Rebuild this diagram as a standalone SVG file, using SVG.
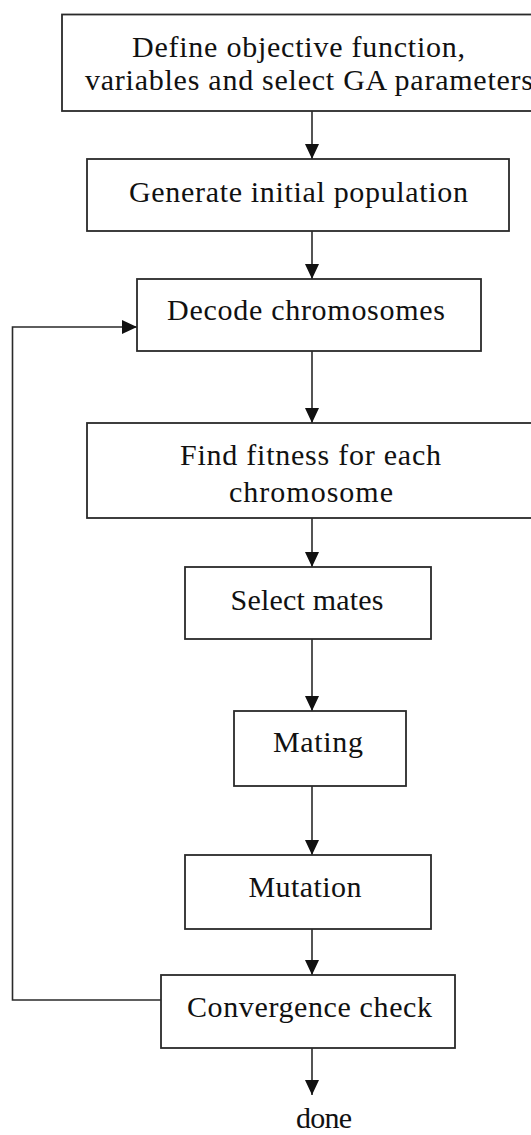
<svg xmlns="http://www.w3.org/2000/svg" width="531" height="1135" viewBox="0 0 531 1135">
<style>
.box{fill:#fff;stroke:#2a2a2a;stroke-width:1.8}
.t{font-family:"Liberation Serif","Times New Roman",serif;font-size:30px;fill:#111;text-anchor:middle}
.c{fill:none;stroke:#2a2a2a;stroke-width:1.6}
</style>
<defs>
<marker id="ah" markerUnits="userSpaceOnUse" markerWidth="16" markerHeight="14" refX="15" refY="7" orient="auto">
<path d="M0,0 L15,7 L0,14 Z" fill="#111"/>
</marker>
</defs>
<rect width="531" height="1135" fill="#fff"/>
<g id="connectors">
<line class="c" x1="312" y1="111" x2="312" y2="159" marker-end="url(#ah)"/>
<line class="c" x1="312" y1="231" x2="312" y2="279" marker-end="url(#ah)"/>
<line class="c" x1="312" y1="351" x2="312" y2="423" marker-end="url(#ah)"/>
<line class="c" x1="312" y1="518" x2="312" y2="567" marker-end="url(#ah)"/>
<line class="c" x1="312" y1="639" x2="312" y2="711" marker-end="url(#ah)"/>
<line class="c" x1="312" y1="786" x2="312" y2="855" marker-end="url(#ah)"/>
<line class="c" x1="312" y1="929" x2="312" y2="975" marker-end="url(#ah)"/>
<line class="c" x1="312" y1="1048" x2="312" y2="1095" marker-end="url(#ah)"/>
<polyline class="c" points="161,1000 12.5,1000 12.5,327 137,327" marker-end="url(#ah)"/>
</g>
<g id="n1"><rect class="box" x="62" y="14.5" width="480" height="96.5"/>
<text class="t" x="298.5" y="57" textLength="333" lengthAdjust="spacing">Define objective function,</text>
<text class="t" x="309" y="90" textLength="448" lengthAdjust="spacing">variables and select GA parameters</text></g>
<g id="n2"><rect class="box" x="87" y="159" width="422" height="72"/>
<text class="t" x="298.5" y="201.5" textLength="339" lengthAdjust="spacing">Generate initial population</text></g>
<g id="n3"><rect class="box" x="137" y="279" width="344" height="72"/>
<text class="t" x="306" y="320" textLength="278" lengthAdjust="spacing">Decode chromosomes</text></g>
<g id="n4"><rect class="box" x="87" y="423" width="460" height="95"/>
<text class="t" x="310.5" y="465" textLength="261" lengthAdjust="spacing">Find fitness for each</text>
<text class="t" x="311" y="502" textLength="164" lengthAdjust="spacing">chromosome</text></g>
<g id="n5"><rect class="box" x="185" y="567" width="246" height="72"/>
<text class="t" x="307" y="610" textLength="153" lengthAdjust="spacing">Select mates</text></g>
<g id="n6"><rect class="box" x="234" y="711" width="172" height="75"/>
<text class="t" x="318" y="752" textLength="90" lengthAdjust="spacing">Mating</text></g>
<g id="n7"><rect class="box" x="185" y="855" width="246" height="74"/>
<text class="t" x="305" y="897" textLength="113" lengthAdjust="spacing">Mutation</text></g>
<g id="n8"><rect class="box" x="161" y="975" width="294" height="73"/>
<text class="t" x="309.5" y="1016.5" textLength="245" lengthAdjust="spacing">Convergence check</text></g>
<g id="done"><text class="t" x="324" y="1128" textLength="56" lengthAdjust="spacing">done</text></g>
</svg>
